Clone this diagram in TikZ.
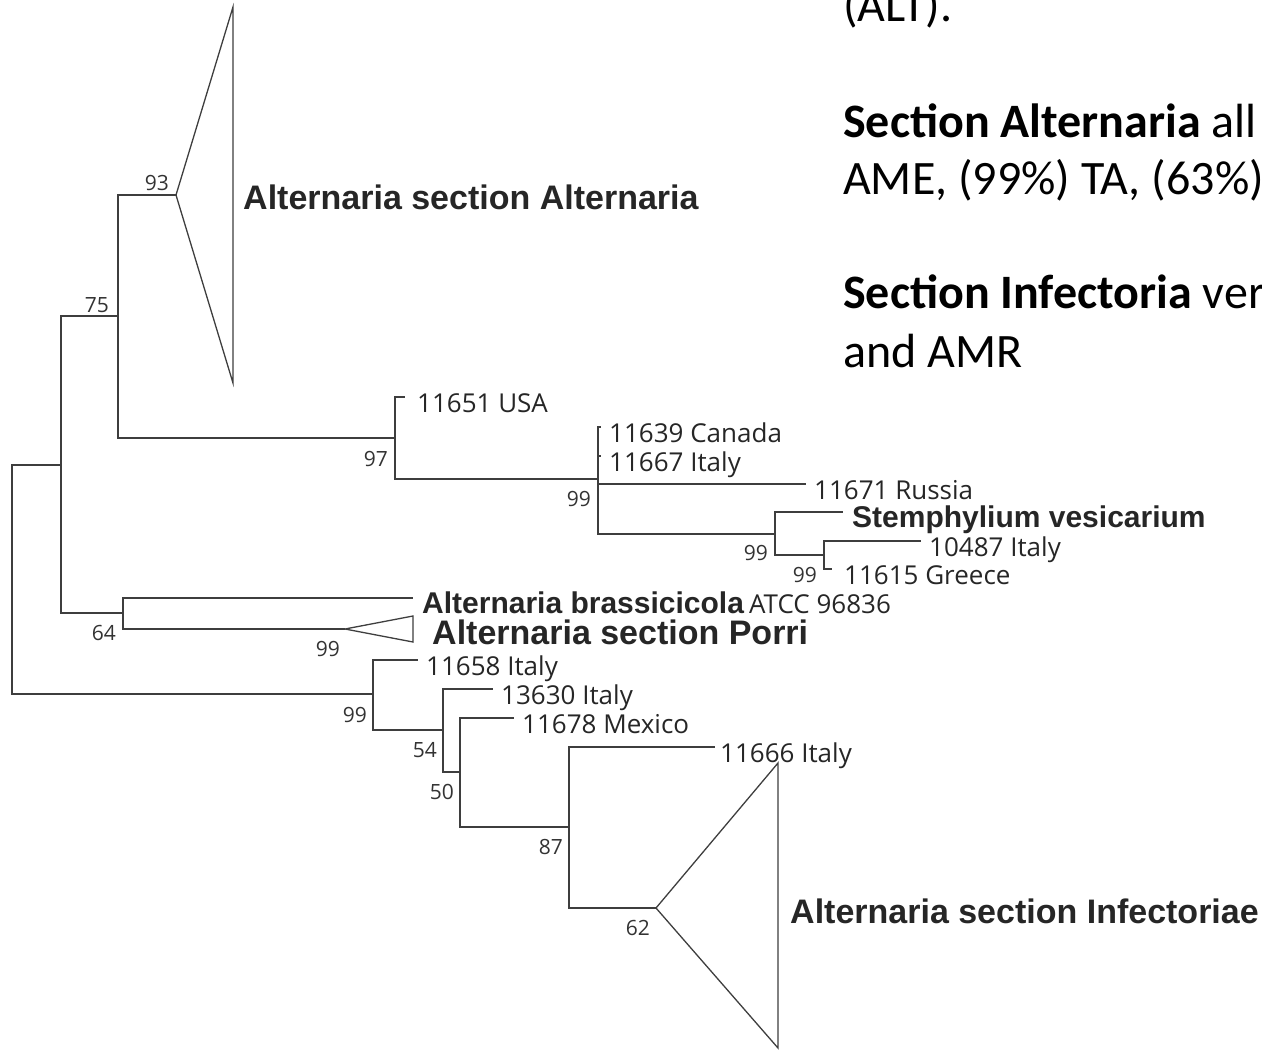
\documentclass[tikz,border=0pt]{standalone}
\usepackage{fontspec}
\usetikzlibrary{positioning}
\newfontfamily\arialfont{Liberation Sans}
\newfontfamily\leaffont{Open Sans}
\newfontfamily\calfont{Carlito}
\definecolor{treegray}{RGB}{62,62,62}
\tikzset{
  branch/.style={draw=treegray,line width=1.3pt},
  lab/.style={anchor=base west,inner sep=0pt,text=black!85},
  leaf/.style={lab,xshift=8pt,yshift=-15pt,font=\leaffont\fontsize{26}{30}\selectfont},
  taxon/.style={lab,xshift=9pt,yshift=-15pt,font=\arialfont\bfseries\fontsize{30}{34}\selectfont},
  clade/.style={lab,font=\arialfont\bfseries\fontsize{34}{38}\selectfont},
  boot/.style={inner sep=0pt,font=\leaffont\fontsize{21}{24}\selectfont,text=black!80},
  notes/.style={anchor=base west,inner sep=0pt,font=\calfont\fontsize{48}{57.5}\selectfont},
}
\begin{document}
\begin{tikzpicture}[x=1pt,y=-1pt]
  \useasboundingbox (0,0) rectangle (1262,1050);
  \clip (0,0) rectangle (1262,1050);
  % internal nodes
  \coordinate (root) at (12,580);
  \coordinate (nA) at (61,465);
  \coordinate (nB) at (118,316);
  \coordinate (nC) at (395,438);
  \coordinate (nD) at (598,479);
  \coordinate (nE) at (775,534);
  \coordinate (nF) at (824,555);
  \coordinate (nG) at (123,613);
  \coordinate (nH) at (373,694);
  \coordinate (nI) at (443,730);
  \coordinate (nJ) at (460,772);
  \coordinate (nK) at (569,827);
  % tips
  \coordinate (tUSA) at (405,397);
  \coordinate (tCan) at (601,427);
  \coordinate (tIta) at (601,456);
  \coordinate (tRus) at (806,484);
  \coordinate (tSte) at (843,512);
  \coordinate (t104) at (921,541);
  \coordinate (tGre) at (832,569);
  \coordinate (tBra) at (413,598);
  \coordinate (t658) at (418,660);
  \coordinate (t630) at (493,689);
  \coordinate (tMex) at (514,718);
  \coordinate (t666) at (715,747);
  % collapsed clades
  \coordinate (aAlt) at (176,195);
  \coordinate (topAlt) at (233,7);
  \coordinate (botAlt) at (233,383);
  \coordinate (aPor) at (345,629);
  \coordinate (topPor) at (413,616);
  \coordinate (botPor) at (413,642);
  \coordinate (aInf) at (656,908);
  \coordinate (topInf) at (778,763);
  \coordinate (botInf) at (778,1048);

  \foreach \p/\c in {root/nA,root/nH,nA/nB,nA/nG,nB/aAlt,nB/nC,nC/tUSA,nC/nD,
    nD/tCan,nD/tIta,nD/tRus,nD/nE,nE/tSte,nE/nF,nF/t104,nF/tGre,nG/tBra,nG/aPor,
    nH/t658,nH/nI,nI/t630,nI/nJ,nJ/tMex,nJ/nK,nK/t666,nK/aInf}
    \draw[branch] (\p) |- (\c);
  \draw[branch] (aAlt) -- (topAlt) -- (botAlt) -- cycle;
  \draw[branch] (aPor) -- (topPor) -- (botPor) -- cycle;
  \draw[branch] (aInf) -- (topInf) -- (botInf) -- cycle;

  % tip labels
  \node[leaf,xshift=4pt] (lUSA) at (tUSA) {11651 USA};
  \node[leaf] (lCan) at (tCan) {11639 Canada};
  \node[leaf] (lIta) at (tIta) {11667 Italy};
  \node[leaf] (lRus) at (tRus) {11671 Russia};
  \node[taxon] (lSte) at (tSte) {Stemphylium vesicarium};
  \node[leaf] (l104) at (t104) {10487 Italy};
  \node[leaf,xshift=4pt] (lGre) at (tGre) {11615 Greece};
  \node[taxon] (lBra) at (tBra) {Alternaria brassicicola\,{\leaffont\mdseries\fontsize{26}{30}\selectfont ATCC 96836}};
  \node[leaf] (l658) at (t658) {11658 Italy};
  \node[leaf] (l630) at (t630) {13630 Italy};
  \node[leaf] (lMex) at (tMex) {11678 Mexico};
  \node[leaf,xshift=-3pt] (l666) at (t666) {11666 Italy};
  \node[clade,xshift=10pt,yshift=-14pt] (cAlt) at (topAlt |- aAlt) {Alternaria section Alternaria};
  \node[clade,xshift=19pt,yshift=-15pt] (cPor) at (topPor |- aPor) {Alternaria section Porri};
  \node[clade,xshift=12pt,yshift=-15pt] (cInf) at (topInf |- aInf) {Alternaria section Infectoriae};

  % bootstrap values
  \node[boot,above left=3pt and 9pt of nB] {75};
  \node[boot,above left=4.5pt and 7pt of aAlt] {93};
  \node[boot,below left=13.5pt and 7pt of nC] {97};
  \node[boot,below left=12.5pt and 7pt of nD] {99};
  \node[boot,below left=11.5pt and 7pt of nE] {99};
  \node[boot,below left=12.5pt and 7pt of nF] {99};
  \node[boot,below left=12.5pt and 7pt of nG] {64};
  \node[boot,below left=12.5pt and 5pt of aPor] {99};
  \node[boot,below left=13.5pt and 6pt of nH] {99};
  \node[boot,below left=12.5pt and 6pt of nI] {54};
  \node[boot,below left=12.5pt and 6pt of nJ] {50};
  \node[boot,below left=12.5pt and 6pt of nK] {87};
  \node[boot,below left=12.5pt and 6pt of aInf] {62};

  % notes on the right
  \node[notes] (note1) at (843,21) {(ALT).};
  \node[notes] (note2) at (843,137) {\textbf{Section Alternaria} all};
  \node[notes] (note3) at (843,194) {AME, (99\%) TA, (63\%)};
  \node[notes] (note4) at (843,308) {\textbf{Section Infectoria} ver};
  \node[notes] (note5) at (843,367) {and AMR};
\end{tikzpicture}
\end{document}
